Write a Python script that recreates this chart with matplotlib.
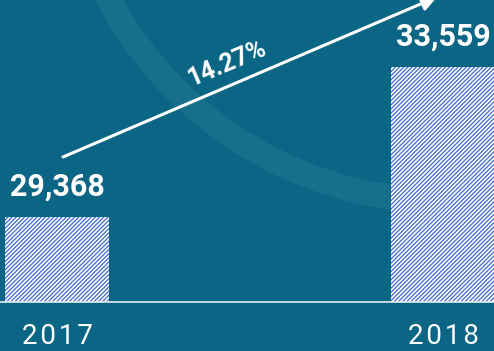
import matplotlib
matplotlib.use("Agg")
import matplotlib.pyplot as plt
from matplotlib.patches import Circle

# --- Data ---
years  = ["2017", "2018"]
values = [29368, 33559]
growth = "14.27%"

BG      = "#0b6584"
BAND    = "#176f8c"
HATCH   = "#3f6bcf"
W, H    = 494, 351
DPI     = 100

plt.rcParams['font.family'] = ['Roboto', 'DejaVu Sans']
plt.rcParams['hatch.linewidth'] = 0.9

fig = plt.figure(figsize=(W / DPI, H / DPI), dpi=DPI, facecolor=BG)

# background layer in pixel coords (arc + arrow)
bg = fig.add_axes([0, 0, 1, 1])
bg.set_xlim(0, W); bg.set_ylim(H, 0)
bg.axis("off")
bg.add_patch(Circle((445, -180), 381, fill=False, color=BAND, lw=25 * 72 / DPI))

# bars axes: baseline at y=302px from top
base = 49 / H
ax = fig.add_axes([0, base, 1, 1 - base])
ax.patch.set_alpha(0)
x = [0, 1]
ax.bar(x, values, width=0.2694, bottom=0, color="white", edgecolor=HATCH,
       linewidth=0, hatch="////////", zorder=2)
ax.set_xlim(-0.1477, 1.132)
ax.set_ylim(26993, 35431)
for s in ["top", "right", "left"]:
    ax.spines[s].set_visible(False)
ax.spines["bottom"].set_color("#e6ecef")
ax.spines["bottom"].set_linewidth(1.2)
ax.spines["bottom"].set_zorder(3)
ax.set_yticks([])
ax.set_xticks(x)
ax.set_xticklabels(["\u200a".join(y) for y in years], color="white", fontsize=20)
ax.tick_params(axis="x", length=0, pad=15)

for xi, v in zip(x, values):
    ax.annotate(f"{v:,}", (xi, v), xytext=(0, 11), textcoords="offset points",
                ha="center", va="bottom", color="white", fontsize=22,
                fontweight="bold")

# growth arrow
bg.annotate("", xy=(437, -3), xytext=(63, 157), annotation_clip=False,
            arrowprops=dict(arrowstyle="-|>,head_length=0.9,head_width=0.45",
                            color="white", lw=2.2, shrinkA=0, shrinkB=0),
            zorder=5)
bg.text(228, 63, growth, rotation=23, ha="center", va="center",
        color="white", fontsize=18, fontweight="bold", rotation_mode="anchor")

fig.savefig("out.png", dpi=DPI, facecolor=BG)
